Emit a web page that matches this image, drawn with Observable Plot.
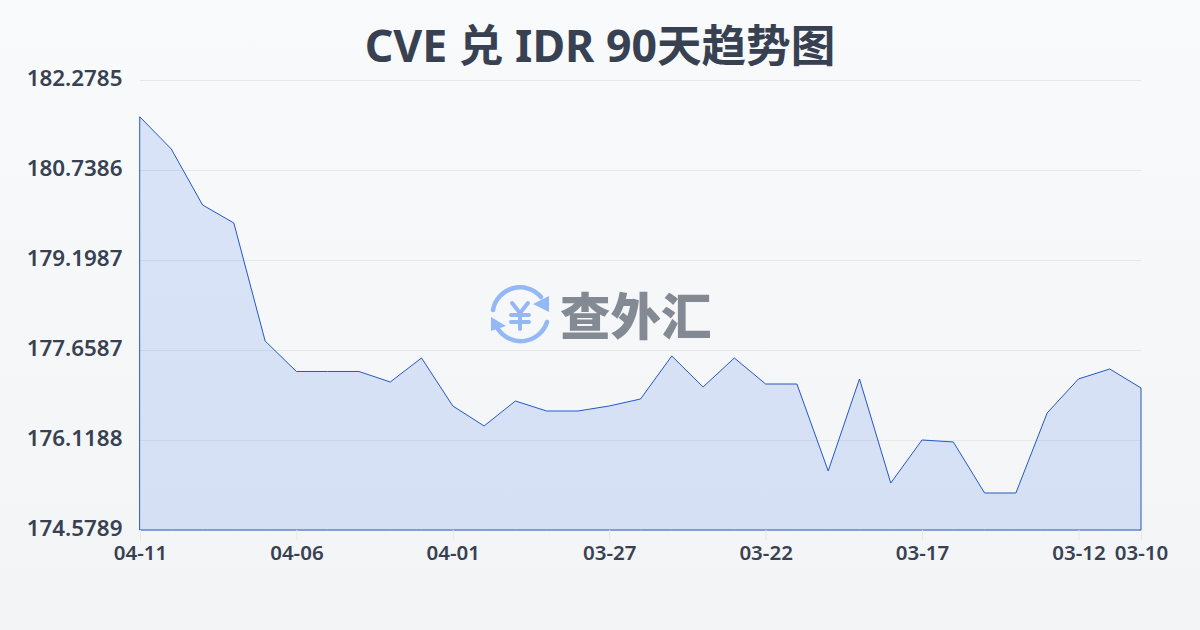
<!DOCTYPE html>
<html><head><meta charset="utf-8">
<script src="https://cdn.jsdelivr.net/npm/d3@7"></script>
<script src="https://cdn.jsdelivr.net/npm/@observablehq/plot@0.6"></script>
<style>
html,body{margin:0;padding:0;width:1200px;height:630px;overflow:hidden}
body{background:linear-gradient(180deg,#f8fafc 0%,#f3f4f6 100%);position:relative;font-family:"Noto Sans","Noto Sans CJK SC",sans-serif}
#title{height:60px;line-height:90px;text-align:center;font-size:44.6px;font-weight:700;color:#374151;white-space:nowrap;font-family:"Noto Sans","Noto Sans CJK SC",sans-serif}
#chart svg{display:block;background:transparent}
#wm{position:absolute;left:488px;top:284px;width:232px;height:62px}
#wmtext{position:absolute;left:560px;top:276px;font-size:50.5px;line-height:74px;font-weight:900;color:#848a94;letter-spacing:0;font-family:"Noto Sans CJK SC",sans-serif;white-space:nowrap}
</style></head><body>
<div id="title">CVE 兑 IDR 90天趋势图</div>
<div id="chart"></div>
<svg id="wm" viewBox="488 284 232 62">
 <g fill="none" stroke="#93b8f5" stroke-width="4.5" stroke-linecap="round">
  <path d="M493 310A27.5 27.5 0 0 1 541 297"/>
  <path d="M547 322A27.5 27.5 0 0 1 498 329"/>
  <path d="M512 303L520 313L528 303M520 313V329M511 315H529M511 322H529" stroke-width="4"/>
 </g>
 <path d="M549 296V312L533 304Z M491 317V331L506 326Z" fill="#93b8f5"/>
</svg>
<div id="wmtext">查外汇</div>
<script>
const dates = ["04-11","04-10","04-09","04-08","04-07","04-06","04-05","04-04","04-03","04-02","04-01","03-31","03-30","03-29","03-28","03-27","03-26","03-25","03-24","03-23","03-22","03-21","03-20","03-19","03-18","03-17","03-16","03-15","03-14","03-13","03-12","03-11","03-10"];
const rates = [181.645,181.098,180.140,179.832,177.813,177.291,177.291,177.291,177.111,177.522,176.701,176.359,176.786,176.615,176.615,176.701,176.820,177.556,177.026,177.522,177.077,177.077,175.589,177.163,175.383,176.119,176.085,175.212,175.212,176.581,177.163,177.334,177.009];
const xLabels = ["04-11","04-06","04-01","03-27","03-22","03-17","03-12","03-10"];
const yLabels = [174.5789,176.1188,177.6587,179.1987,180.7386,182.2785];
const table = dates.map((d,i)=>({d,v:rates[i]}));
const plot = Plot.plot({
  width:1200,height:570,marginTop:20,marginBottom:100,marginLeft:140,marginRight:59,
  style:{background:"transparent",fontFamily:'"Noto Sans","Noto Sans CJK SC",sans-serif'},
  x:{type:"point",domain:dates,label:null,padding:0,round:false},
  y:{domain:[174.5789,182.2785],label:null},
  marks:[
    Plot.gridY(yLabels,{stroke:"#e5e7eb",strokeOpacity:1,strokeWidth:1}),
    Plot.areaY(table,{x:"d",y:"v",y1:174.5789,y2:"v",fill:"#2563eb",fillOpacity:0.14,stroke:"#2458c4",strokeWidth:1}),
    Plot.axisY({ticks:yLabels,tickFormat:d=>d.toFixed(4),tickSize:0,tickPadding:18,fontSize:22.4,fontWeight:600,fill:"#374151",label:null,dy:-2}),
    Plot.axisX({ticks:xLabels,tickSize:10,tickPadding:5,fontSize:20.5,fontWeight:600,stroke:"#e5e7eb",fill:"#374151",label:null})
  ]
});
document.getElementById("chart").appendChild(plot);
</script>
</body></html>
